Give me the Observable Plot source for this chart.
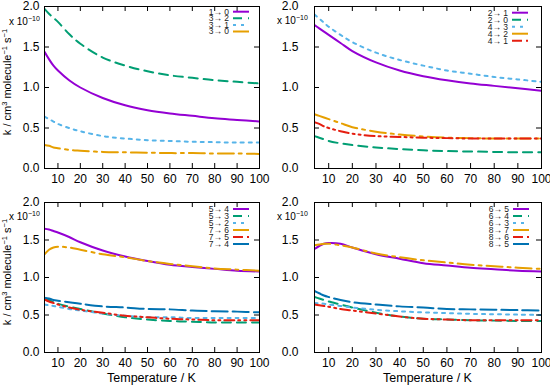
<!DOCTYPE html>
<html>
<head>
<meta charset="utf-8">
<script src="https://cdn.jsdelivr.net/npm/d3@7"></script>
<script src="https://cdn.jsdelivr.net/npm/@observablehq/plot@0.6"></script>
<style>
  html, body { margin: 0; padding: 0; background: #fff; }
  #chart { position: relative; width: 550px; height: 385px; overflow: hidden; font-family: "Liberation Sans", Arial, sans-serif; }
  #chart > svg { position: absolute; }
</style>
</head>
<body>
<div id="chart"></div>
<script>
// ---- data (rate coefficients in units of 1e-10 cm^3 molecule^-1 s^-1) ----
const temps = [4, 6, 8, 10, 15, 20, 30, 40, 50, 60, 70, 80, 90, 100];
const xTicks = [10, 20, 30, 40, 50, 60, 70, 80, 90, 100];
const yTicks = [0, 0.5, 1.0, 1.5, 2.0];

// panel (a)
const k1_0 = [1.44, 1.35, 1.27, 1.21, 1.09, 1.00, 0.87, 0.78, 0.72, 0.68, 0.65, 0.62, 0.60, 0.58];
const k3_2 = [1.97, 1.91, 1.86, 1.81, 1.66, 1.54, 1.37, 1.27, 1.20, 1.15, 1.12, 1.09, 1.07, 1.05];
const k3_1 = [0.64, 0.61, 0.58, 0.55, 0.50, 0.46, 0.40, 0.37, 0.35, 0.34, 0.33, 0.325, 0.32, 0.32];
const k3_0 = [0.29, 0.28, 0.26, 0.25, 0.23, 0.22, 0.205, 0.20, 0.195, 0.19, 0.19, 0.185, 0.185, 0.18];
// panel (b)
const k2_1 = [1.77, 1.73, 1.69, 1.65, 1.55, 1.45, 1.31, 1.21, 1.14, 1.09, 1.05, 1.02, 0.99, 0.96];
const k2_0 = [0.40, 0.38, 0.36, 0.34, 0.31, 0.29, 0.26, 0.24, 0.225, 0.215, 0.21, 0.205, 0.20, 0.20];
const k4_3 = [1.90, 1.85, 1.80, 1.75, 1.65, 1.56, 1.43, 1.34, 1.27, 1.21, 1.17, 1.13, 1.10, 1.07];
const k4_2 = [0.67, 0.65, 0.63, 0.61, 0.56, 0.51, 0.455, 0.42, 0.395, 0.38, 0.375, 0.37, 0.37, 0.37];
const k4_1 = [0.57, 0.55, 0.52, 0.50, 0.46, 0.43, 0.40, 0.39, 0.38, 0.375, 0.37, 0.37, 0.37, 0.37];
// panel (c)
const k5_4 = [1.65, 1.64, 1.62, 1.60, 1.54, 1.47, 1.36, 1.28, 1.22, 1.17, 1.14, 1.115, 1.09, 1.08];
const k5_3 = [0.72, 0.70, 0.67, 0.65, 0.61, 0.58, 0.52, 0.47, 0.44, 0.42, 0.41, 0.40, 0.40, 0.40];
const k5_2 = [0.64, 0.63, 0.62, 0.61, 0.58, 0.56, 0.52, 0.49, 0.47, 0.47, 0.46, 0.46, 0.46, 0.46];
const k7_6 = [1.31, 1.37, 1.40, 1.41, 1.40, 1.37, 1.31, 1.27, 1.22, 1.18, 1.15, 1.12, 1.105, 1.09];
const k7_5 = [0.71, 0.68, 0.66, 0.64, 0.60, 0.57, 0.53, 0.49, 0.47, 0.45, 0.44, 0.43, 0.43, 0.43];
const k7_4 = [0.73, 0.72, 0.70, 0.69, 0.67, 0.65, 0.615, 0.60, 0.58, 0.575, 0.56, 0.55, 0.545, 0.535];
// panel (d)
const k6_5 = [1.38, 1.42, 1.45, 1.46, 1.45, 1.40, 1.31, 1.25, 1.19, 1.16, 1.13, 1.11, 1.09, 1.08];
const k6_4 = [0.74, 0.72, 0.70, 0.68, 0.64, 0.60, 0.53, 0.48, 0.45, 0.44, 0.43, 0.425, 0.42, 0.42];
const k6_3 = [0.66, 0.655, 0.65, 0.64, 0.62, 0.60, 0.57, 0.55, 0.535, 0.525, 0.515, 0.51, 0.505, 0.50];
const k8_7 = [1.43, 1.44, 1.45, 1.45, 1.43, 1.40, 1.32, 1.27, 1.23, 1.20, 1.17, 1.15, 1.13, 1.115];
const k8_6 = [0.64, 0.63, 0.62, 0.61, 0.58, 0.56, 0.52, 0.48, 0.45, 0.44, 0.43, 0.43, 0.43, 0.43];
const k8_5 = [0.82, 0.79, 0.76, 0.74, 0.70, 0.67, 0.64, 0.615, 0.60, 0.58, 0.575, 0.57, 0.565, 0.56];

// ---- styles ----
const styles = {
  purple: {stroke: "#9400d3", dash: null},
  green:  {stroke: "#009e73", dash: "9,6"},
  sky:    {stroke: "#56b4e9", dash: "3,5"},
  orange: {stroke: "#e69f00", dash: "16,5,3,5"},
  red:    {stroke: "#e51e10", dash: "10,4,2,4,2,4"},
  blue:   {stroke: "#0072b2", dash: "16,5"}
};

const panels = [
  {left: 0, top: 0, width: 275, height: 190, mL: 44, mR: 16, mT: 6, mB: 22, yPad: 5, ylabel: true, xlabel: false,
   expX: 9, expY: 25, legTextX: 229, legLine: [233, 249], legY0: 11.7, legStep: 6.6,
   series: [["1→ 0", k1_0, "purple"], ["3→ 2", k3_2, "green"], ["3→ 1", k3_1, "sky"], ["3→ 0", k3_0, "orange"]]},
  {left: 275, top: 0, width: 275, height: 190, mL: 39, mR: 9, mT: 6, mB: 22, yPad: 16, ylabel: false, xlabel: false,
   expX: 2, expY: 24, legTextX: 233, legLine: [237, 253], legY0: 12.7, legStep: 7,
   series: [["2→ 1", k2_1, "purple"], ["2→ 0", k2_0, "green"], ["4→ 3", k4_3, "sky"], ["4→ 2", k4_2, "orange"], ["4→ 1", k4_1, "red"]]},
  {left: 0, top: 190, width: 275, height: 195, mL: 44, mR: 16, mT: 12, mB: 33, yPad: 5, ylabel: true, xlabel: true,
   expX: 9, expY: 30, legTextX: 229, legLine: [233, 249], legY0: 19, legStep: 7,
   series: [["5→ 4", k5_4, "purple"], ["5→ 3", k5_3, "green"], ["5→ 2", k5_2, "sky"], ["7→ 6", k7_6, "orange"], ["7→ 5", k7_5, "red"], ["7→ 4", k7_4, "blue"]]},
  {left: 275, top: 190, width: 275, height: 195, mL: 39, mR: 9, mT: 12, mB: 33, yPad: 16, ylabel: false, xlabel: true,
   expX: 2, expY: 30, legTextX: 234, legLine: [238, 254], legY0: 19, legStep: 7,
   series: [["6→ 5", k6_5, "purple"], ["6→ 4", k6_4, "green"], ["6→ 3", k6_3, "sky"], ["8→ 7", k8_7, "orange"], ["8→ 6", k8_6, "red"], ["8→ 5", k8_5, "blue"]]}
];

const chart = document.getElementById("chart");
const font = "'Liberation Sans', Arial, sans-serif";

for (const p of panels) {
  const fw = p.width - p.mL - p.mR;
  const fh = p.height - p.mT - p.mB;
  const lineMarks = p.series.map(([label, vals, st]) =>
    Plot.line(temps.map((t, i) => ({T: t, k: vals[i]})), {
      x: "T", y: "k", stroke: styles[st].stroke, strokeWidth: 2,
      strokeDasharray: styles[st].dash, curve: "catmull-rom", clip: true
    })
  );
  const svg = Plot.plot({
    width: p.width, height: p.height,
    marginLeft: p.mL, marginRight: p.mR, marginTop: p.mT, marginBottom: p.mB,
    style: {fontFamily: font, fontSize: "12px", color: "black", background: "white", overflow: "visible"},
    x: {domain: [4, 100]},
    y: {domain: [0, 2]},
    marks: [
      ...lineMarks,
      Plot.axisX(xTicks, {tickSize: 0, tickPadding: 6, label: null}),
      Plot.axisY(yTicks, {tickSize: 0, tickPadding: p.yPad, tickFormat: d3.format(".1f"), label: null}),
      Plot.tickY(yTicks, {y: d => d, insetRight: fw - 5, stroke: "black"}),
      Plot.tickY(yTicks, {y: d => d, insetLeft: fw - 5, stroke: "black"}),
      Plot.tickX(xTicks, {x: d => d, insetTop: fh - 5, stroke: "black"}),
      Plot.tickX(xTicks, {x: d => d, insetBottom: fh - 5, stroke: "black"}),
      Plot.frame({stroke: "black", strokeWidth: 1})
    ]
  });
  svg.style.left = p.left + "px";
  svg.style.top = p.top + "px";
  chart.appendChild(svg);

  const s = d3.select(svg);
  // exponent label
  const ex = s.append("text").attr("x", p.expX).attr("y", p.expY).attr("text-anchor", "start")
    .attr("font-family", font).attr("font-size", 10).attr("fill", "black");
  ex.append("tspan").text("x 10");
  ex.append("tspan").attr("dy", -4).attr("font-size", 7).text("−10");

  // y axis label
  if (p.ylabel) {
    const yl = s.append("text")
      .attr("transform", `translate(11, ${p.mT + fh / 2 - 5}) rotate(-90)`)
      .attr("text-anchor", "middle").attr("font-family", font).attr("font-size", 11).attr("fill", "black");
    yl.append("tspan").text("k / cm");
    yl.append("tspan").attr("dy", -4.5).attr("font-size", 7.5).text("3");
    yl.append("tspan").attr("dy", 4.5).text(" molecule");
    yl.append("tspan").attr("dy", -4.5).attr("font-size", 7.5).text("−1");
    yl.append("tspan").attr("dy", 4.5).text(" s");
    yl.append("tspan").attr("dy", -4.5).attr("font-size", 7.5).text("−1");
  }
  // x axis label
  if (p.xlabel) {
    s.append("text").attr("x", p.mL + fw / 2).attr("y", p.height - 3)
      .attr("text-anchor", "middle").attr("font-family", font).attr("font-size", 12.5).attr("fill", "black")
      .text("Temperature / K");
  }
  // legend
  const lg = s.append("g");
  p.series.forEach(([label, , st], i) => {
    const y = p.legY0 + i * p.legStep;
    lg.append("text").attr("x", p.legTextX).attr("y", y).attr("dy", "0.35em")
      .attr("text-anchor", "end").attr("font-family", font).attr("font-size", 8.5).attr("fill", "#222")
      .text(label);
    lg.append("line").attr("x1", p.legLine[0]).attr("x2", p.legLine[1]).attr("y1", y).attr("y2", y)
      .attr("stroke", styles[st].stroke).attr("stroke-width", 2)
      .attr("stroke-dasharray", styles[st].dash);
  });
}
</script>
</body>
</html>
